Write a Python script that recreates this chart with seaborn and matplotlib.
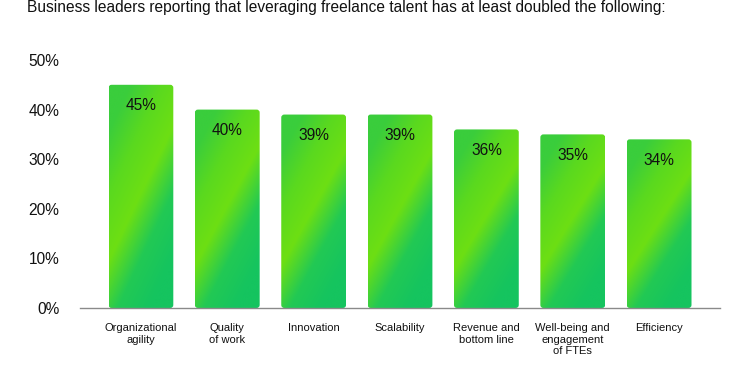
import matplotlib
matplotlib.use("Agg")
import matplotlib.pyplot as plt
import seaborn as sns
import pandas as pd
import numpy as np
from matplotlib.colors import LinearSegmentedColormap
from matplotlib.patches import FancyBboxPatch

# data
categories = ["Organizational\nagility", "Quality\nof work", "Innovation", "Scalability",
              "Revenue and\nbottom line", "Well-being and\nengagement\nof FTEs", "Efficiency"]
values = [45, 40, 39, 39, 36, 35, 34]
yticks = [0, 10, 20, 30, 40, 50]
title = "Business leaders reporting that leveraging freelance talent has at least doubled the following:"

df = pd.DataFrame({"Benefit": categories, "Share": values})

sns.set_style("white")
plt.rcParams['font.family'] = ['Liberation Sans', 'DejaVu Sans']

fig = plt.figure(figsize=(7.5, 3.75), dpi=100)
ax = fig.add_axes([0.1067, 0.1787, 0.8533, 0.6613])

sns.barplot(data=df, x="Benefit", y="Share", ax=ax, color="#2fd04a", width=0.75,
            saturation=1, errorbar=None)

# green gradient inside each bar: teal bottom-right, soft lime diagonal band, green top-left
cmap = LinearSegmentedColormap.from_list(
    "gr", ["#15c45f", "#22c954", "#6ddf13", "#5ad91f", "#3acd3c"])
gx, gy = np.meshgrid(np.linspace(0, 1, 60), np.linspace(0, 1, 200))
d = gy - (0.1 + 0.6 * gx)
grad = np.clip(0.4 + 0.85 * d, 0, 1)

for p in ax.patches:
    x0, y0 = p.get_x(), p.get_y()
    w, h = p.get_width(), p.get_height()
    p.set_visible(False)
    clip = FancyBboxPatch((x0, y0), w, h, boxstyle="round,pad=0,rounding_size=0.035",
                          mutation_aspect=17, facecolor="none", edgecolor="none",
                          transform=ax.transData)
    ax.add_patch(clip)
    im = ax.imshow(grad, cmap=cmap, extent=[x0, x0 + w, y0, y0 + h], origin="lower",
                   aspect="auto", interpolation="bicubic", zorder=2, vmin=0, vmax=1)
    im.set_clip_path(clip)

for i, v in enumerate(values):
    ax.text(i, v - 4.2, f"{v}%", ha="center", va="center", fontsize=11.2, color="#111111", zorder=3)

ax.set_xlim(-0.705, 6.705)
ax.set_ylim(0, 50)
ax.set_yticks(yticks)
ax.set_yticklabels([f"{t}%" for t in yticks], fontsize=11.2, color="#111111")
ax.tick_params(axis="y", length=0, pad=15)
ax.tick_params(axis="x", length=0, pad=11, labelsize=8, labelcolor="#111111")
ax.set_xlabel("")
ax.set_ylabel("")
for s in ["top", "right", "left"]:
    ax.spines[s].set_visible(False)
ax.spines["bottom"].set_color("#8a8a8a")
ax.spines["bottom"].set_linewidth(1)
ax.spines["bottom"].set_zorder(4)
for lbl in ax.get_xticklabels():
    lbl.set_multialignment("center")
    lbl.set_linespacing(1.2)

fig.text(0.036, 1.0, title, fontsize=11.2, ha="left", va="top", color="#111111")

fig.savefig("out.png", dpi=100, facecolor="white")
